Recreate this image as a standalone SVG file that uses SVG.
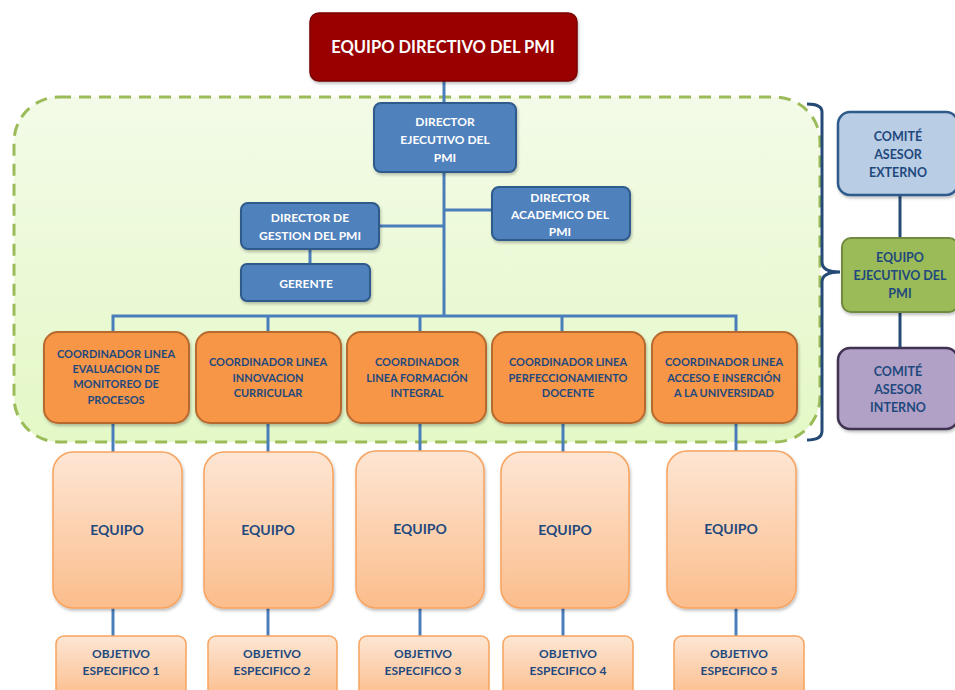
<svg xmlns="http://www.w3.org/2000/svg" width="955" height="690" viewBox="0 0 955 690">
<defs>
<linearGradient id="gGreen" x1="0" y1="0" x2="0" y2="1">
<stop offset="0" stop-color="#f3fbe8"/><stop offset="1" stop-color="#e4f8c6"/>
</linearGradient>
<linearGradient id="gPeach" x1="0" y1="0" x2="0" y2="1">
<stop offset="0" stop-color="#fde6d4"/><stop offset="1" stop-color="#fbbd8c"/>
</linearGradient>
<filter id="sh" x="-10%" y="-10%" width="130%" height="130%">
<feDropShadow dx="1" dy="2" stdDeviation="1.5" flood-color="#000" flood-opacity="0.25"/>
</filter>
</defs>
<style>
text{font-family:Lato,"Liberation Sans",sans-serif;font-weight:bold;text-anchor:middle}
.red{fill:#990000;stroke:#7a0000;stroke-width:1.5}
.blue{fill:#4f81bd;stroke:#2f5a8c;stroke-width:2}
.orange{fill:#f79646;stroke:#b8692e;stroke-width:2}
.peach{fill:url(#gPeach);stroke:#f8a35e;stroke-width:1.5}
.wt{fill:#ffffff;font-size:12px}
.dt{fill:#1f497d;font-size:11px}
.ot{fill:#1f497d;font-size:12px}
.rt{fill:#1f497d;font-size:12.5px}
.conn{stroke:#4a7ebb;stroke-width:3;fill:none}
.dconn{stroke:#244a75;stroke-width:3;fill:none}
</style>
<rect width="955" height="690" fill="#ffffff"/>

<g id="container">
<rect x="14" y="97" width="806" height="345" rx="45" fill="url(#gGreen)" stroke="#9bbb59" stroke-width="3" stroke-dasharray="12,8"/>
</g>

<g id="connectors">
<line class="conn" x1="444" y1="81" x2="444" y2="317"/>
<line class="conn" x1="444" y1="210" x2="492" y2="210"/>
<line class="conn" x1="379" y1="226" x2="444" y2="226"/>
<line class="conn" x1="310" y1="249" x2="310" y2="264"/>
<polyline class="conn" points="113,331 113,316 736,316 736,331"/>
<line class="conn" x1="268" y1="316" x2="268" y2="331"/>
<line class="conn" x1="420" y1="316" x2="420" y2="331"/>
<line class="conn" x1="562" y1="316" x2="562" y2="331"/>
<line class="conn" x1="113" y1="423" x2="113" y2="636"/>
<line class="conn" x1="268" y1="423" x2="268" y2="636"/>
<line class="conn" x1="420" y1="423" x2="420" y2="636"/>
<line class="conn" x1="563" y1="423" x2="563" y2="636"/>
<line class="conn" x1="736" y1="423" x2="736" y2="636"/>
<line class="dconn" x1="900" y1="195" x2="900" y2="238"/>
<line class="dconn" x1="900" y1="312" x2="900" y2="348"/>
<path class="dconn" d="M807,104 Q822,104 822,112 L822,262 Q822,272 840,272 Q822,272 822,282 L822,431 Q822,440 807,440"/>
</g>

<g id="equipo-directivo">
<rect class="red" x="310" y="13" width="267" height="68" rx="9" filter="url(#sh)"/>
<text x="443" y="53" fill="#ffffff" style="font-size:16.5px">EQUIPO DIRECTIVO DEL PMI</text>
</g>

<g id="director-ejecutivo">
<rect class="blue" x="374" y="103" width="142" height="69" rx="7" filter="url(#sh)"/>
<text class="wt" x="445" y="126">DIRECTOR</text>
<text class="wt" x="445" y="144">EJECUTIVO  DEL</text>
<text class="wt" x="445" y="162">PMI</text>
</g>

<g id="director-academico">
<rect class="blue" x="492" y="187" width="138" height="53" rx="7" filter="url(#sh)"/>
<text class="wt" x="560" y="202">DIRECTOR</text>
<text class="wt" x="560" y="219">ACADEMICO DEL</text>
<text class="wt" x="560" y="236">PMI</text>
</g>

<g id="director-gestion">
<rect class="blue" x="241" y="203" width="138" height="46" rx="7" filter="url(#sh)"/>
<text class="wt" x="310" y="222">DIRECTOR DE</text>
<text class="wt" x="310" y="240">GESTION  DEL PMI</text>
</g>

<g id="gerente">
<rect class="blue" x="241" y="264" width="129" height="37" rx="6" filter="url(#sh)"/>
<text class="wt" x="306" y="288">GERENTE</text>
</g>

<g id="coord-1">
<rect class="orange" x="44" y="332" width="145" height="91" rx="14" filter="url(#sh)"/>
<text class="dt" x="116" y="358">COORDINADOR LINEA</text>
<text class="dt" x="116" y="373">EVALUACION DE</text>
<text class="dt" x="116" y="388">MONITOREO DE</text>
<text class="dt" x="116" y="404">PROCESOS</text>
</g>
<g id="coord-2">
<rect class="orange" x="196" y="332" width="145" height="91" rx="14" filter="url(#sh)"/>
<text class="dt" x="268" y="366">COORDINADOR LINEA</text>
<text class="dt" x="268" y="382">INNOVACION</text>
<text class="dt" x="268" y="397">CURRICULAR</text>
</g>
<g id="coord-3">
<rect class="orange" x="347" y="332" width="139" height="91" rx="14" filter="url(#sh)"/>
<text class="dt" x="417" y="366">COORDINADOR</text>
<text class="dt" x="417" y="382">LINEA FORMACIÓN</text>
<text class="dt" x="417" y="397">INTEGRAL</text>
</g>
<g id="coord-4">
<rect class="orange" x="492" y="332" width="153" height="91" rx="14" filter="url(#sh)"/>
<text class="dt" x="568" y="366">COORDINADOR LINEA</text>
<text class="dt" x="568" y="382">PERFECCIONAMIENTO</text>
<text class="dt" x="568" y="397">DOCENTE</text>
</g>
<g id="coord-5">
<rect class="orange" x="652" y="332" width="145" height="91" rx="14" filter="url(#sh)"/>
<text class="dt" x="724" y="366">COORDINADOR LINEA</text>
<text class="dt" x="724" y="382">ACCESO E INSERCIÓN</text>
<text class="dt" x="724" y="397">A LA UNIVERSIDAD</text>
</g>

<g id="equipo-1">
<rect class="peach" x="53" y="452" width="129" height="156" rx="20" filter="url(#sh)"/>
<text x="117" y="535" fill="#1f497d" style="font-size:14px">EQUIPO</text>
</g>
<g id="equipo-2">
<rect class="peach" x="204" y="452" width="129" height="156" rx="20" filter="url(#sh)"/>
<text x="268" y="535" fill="#1f497d" style="font-size:14px">EQUIPO</text>
</g>
<g id="equipo-3">
<rect class="peach" x="356" y="451" width="128" height="157" rx="20" filter="url(#sh)"/>
<text x="420" y="534" fill="#1f497d" style="font-size:14px">EQUIPO</text>
</g>
<g id="equipo-4">
<rect class="peach" x="501" y="452" width="128" height="156" rx="20" filter="url(#sh)"/>
<text x="565" y="535" fill="#1f497d" style="font-size:14px">EQUIPO</text>
</g>
<g id="equipo-5">
<rect class="peach" x="667" y="451" width="129" height="157" rx="20" filter="url(#sh)"/>
<text x="731" y="534" fill="#1f497d" style="font-size:14px">EQUIPO</text>
</g>

<g id="objetivo-1">
<rect class="peach" x="56" y="636" width="130" height="62" rx="8"/>
<text class="ot" x="121" y="658">OBJETIVO</text>
<text class="ot" x="121" y="675">ESPECIFICO 1</text>
</g>
<g id="objetivo-2">
<rect class="peach" x="208" y="636" width="129" height="62" rx="8"/>
<text class="ot" x="272" y="658">OBJETIVO</text>
<text class="ot" x="272" y="675">ESPECIFICO 2</text>
</g>
<g id="objetivo-3">
<rect class="peach" x="359" y="636" width="130" height="62" rx="8"/>
<text class="ot" x="423" y="658">OBJETIVO</text>
<text class="ot" x="423" y="675">ESPECIFICO 3</text>
</g>
<g id="objetivo-4">
<rect class="peach" x="503" y="636" width="130" height="62" rx="8"/>
<text class="ot" x="568" y="658">OBJETIVO</text>
<text class="ot" x="568" y="675">ESPECIFICO  4</text>
</g>
<g id="objetivo-5">
<rect class="peach" x="674" y="636" width="130" height="62" rx="8"/>
<text class="ot" x="739" y="658">OBJETIVO</text>
<text class="ot" x="739" y="675">ESPECIFICO 5</text>
</g>

<g id="comite-externo">
<rect x="838" y="112" width="120" height="83" rx="12" fill="#b9cde5" stroke="#2f5a8c" stroke-width="2.5" filter="url(#sh)"/>
<text class="rt" x="898" y="141">COMITÉ</text>
<text class="rt" x="898" y="159">ASESOR</text>
<text class="rt" x="898" y="177">EXTERNO</text>
</g>
<g id="equipo-ejecutivo">
<rect x="842" y="238" width="116" height="74" rx="9" fill="#9bbb59" stroke="#71893f" stroke-width="2" filter="url(#sh)"/>
<text class="rt" x="900" y="262">EQUIPO</text>
<text class="rt" x="900" y="280">EJECUTIVO DEL</text>
<text class="rt" x="900" y="298">PMI</text>
</g>
<g id="comite-interno">
<rect x="838" y="348" width="120" height="81" rx="12" fill="#b2a1c7" stroke="#3f3151" stroke-width="2.5" filter="url(#sh)"/>
<text class="rt" x="898" y="376">COMITÉ</text>
<text class="rt" x="898" y="394">ASESOR</text>
<text class="rt" x="898" y="412">INTERNO</text>
</g>
</svg>
